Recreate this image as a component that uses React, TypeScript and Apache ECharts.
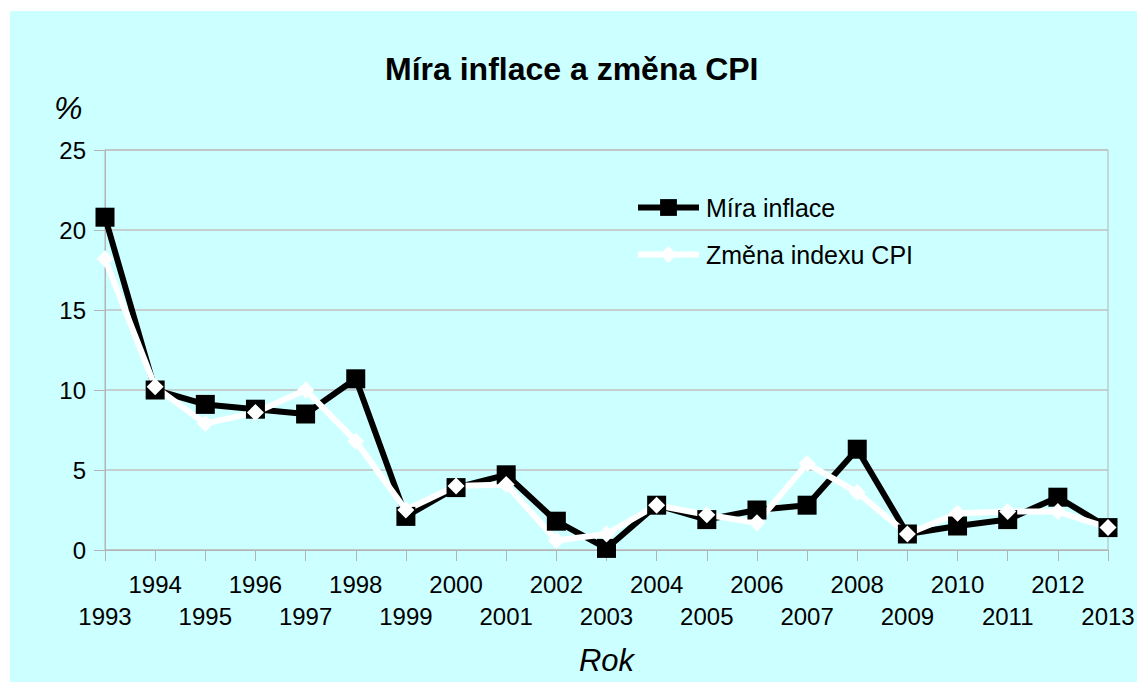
import React, { useEffect, useRef } from "react";
import * as echarts from "echarts";

const years = ["1993","1994","1995","1996","1997","1998","1999","2000","2001","2002","2003","2004","2005","2006","2007","2008","2009","2010","2011","2012","2013"];
const miraInflace = [20.8, 10.0, 9.1, 8.8, 8.5, 10.7, 2.1, 3.9, 4.7, 1.8, 0.1, 2.8, 1.9, 2.5, 2.8, 6.3, 1.0, 1.5, 1.9, 3.3, 1.4];
const zmenaCPI = [18.2, 10.2, 7.9, 8.6, 10.0, 6.8, 2.5, 4.0, 4.1, 0.6, 1.0, 2.8, 2.2, 1.7, 5.4, 3.6, 1.0, 2.3, 2.4, 2.4, 1.4];
const yTicks = { min: 0, max: 25, interval: 5 };

const FONT = "Liberation Sans, Arial, sans-serif";

export default function App() {
  const ref = useRef<HTMLDivElement>(null);
  useEffect(() => {
    if (!ref.current) return;
    const chart = echarts.init(ref.current, undefined, { renderer: "svg" });
    chart.setOption({
      animation: false,
      backgroundColor: "#ffffff",
      textStyle: { fontFamily: FONT, color: "#000" },
      graphic: [
        { type: "rect", z: -10, shape: { x: 10, y: 11, width: 1127, height: 671 }, style: { fill: "#ccffff" }, silent: true },
        { type: "text", left: 54, top: 92, style: { text: "%", font: "italic 32px " + FONT, fill: "#000" } },
      ],
      title: {
        text: "Míra inflace a změna CPI",
        left: 380,
        top: 48,
        textStyle: { fontFamily: FONT, fontSize: 32, fontWeight: "bold", color: "#000" },
      },
      legend: {
        orient: "vertical",
        left: 635,
        top: 195,
        padding: 0,
        itemWidth: 61,
        itemHeight: 21,
        itemGap: 22,
        lineStyle: { width: 6 },
        textStyle: { fontFamily: FONT, fontSize: 25, color: "#000", padding: [0, 0, 0, 2] },
        data: ["Míra inflace", "Změna indexu CPI"],
      },
      grid: { left: 105, right: 31, top: 150, bottom: 134, show: true, borderColor: "#b4b4b4", borderWidth: 1, backgroundColor: "transparent" },
      xAxis: {
        type: "category",
        data: years,
        boundaryGap: false,
        name: "Rok",
        nameLocation: "middle",
        nameGap: 110,
        nameTextStyle: { fontFamily: FONT, fontSize: 31, fontStyle: "italic", color: "#000", verticalAlign: "middle" },
        axisLine: { lineStyle: { color: "#b4b4b4", width: 1 } },
        axisTick: { show: true, length: 11, interval: 0, lineStyle: { color: "#b4b4b4" } },
        axisLabel: {
          interval: 0,
          margin: 18,
          fontFamily: FONT,
          fontSize: 24,
          color: "#000",
          lineHeight: 32,
          formatter: (v: string, i: number) => (i % 2 === 0 ? "\n" + v : v),
        },
        splitLine: { show: false },
      },
      yAxis: {
        type: "value",
        min: yTicks.min,
        max: yTicks.max,
        interval: yTicks.interval,
        axisLine: { show: true, lineStyle: { color: "#b4b4b4", width: 1 } },
        axisTick: { show: true, length: 11, lineStyle: { color: "#b4b4b4" } },
        axisLabel: { margin: 19, fontFamily: FONT, fontSize: 24, color: "#000" },
        splitLine: { show: true, lineStyle: { color: "#c0c0c0", width: 1.5 } },
      },
      series: [
        {
          name: "Míra inflace",
          type: "line",
          data: miraInflace,
          symbol: "rect",
          symbolSize: 19,
          lineStyle: { color: "#000", width: 6 },
          itemStyle: { color: "#000" },
        },
        {
          name: "Změna indexu CPI",
          type: "line",
          data: zmenaCPI,
          symbol: "diamond",
          symbolSize: 17,
          lineStyle: { color: "#fff", width: 6 },
          itemStyle: { color: "#fff" },
        },
      ],
    });
    return () => chart.dispose();
  }, []);
  return <div ref={ref} style={{ position: "absolute", left: 0, top: 0, width: 1139, height: 684 }} />;
}
